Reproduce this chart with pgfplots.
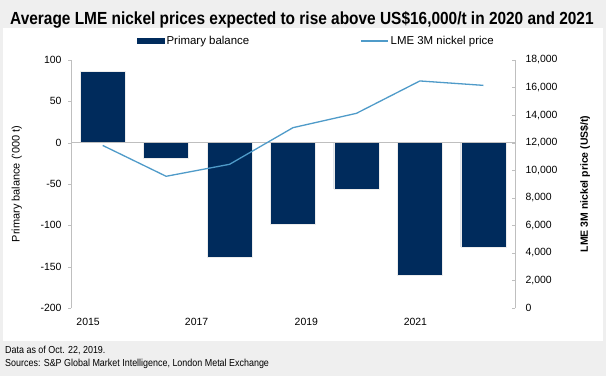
\documentclass[border=0pt]{standalone}
\usepackage{fontspec}
\setmainfont{Liberation Sans}
\newfontfamily\condensed{Liberation Sans}[FakeStretch=0.88]
\usepackage{pgfplots}
\pgfplotsset{compat=1.18}
\definecolor{barc}{HTML}{002B5C}
\definecolor{linec}{HTML}{4F9BC9}
\definecolor{bg}{HTML}{EFEFEF}
\definecolor{axc}{HTML}{BFBFBF}
\pgfplotsset{
  barlegend/.style={legend image code/.code={\fill[barc] (0bp,-2.5bp) rectangle (27bp,2.5bp);}},
  linelegend/.style={legend image code/.code={\draw[linec, line width=1.3bp] (0bp,0bp) -- (27bp,0bp);}},
}
\begin{document}
\begin{tikzpicture}[x=1bp,y=1bp]
\useasboundingbox (0,0) rectangle (606,-376);
\fill[bg] (0,0) rectangle (606,-376);
\fill[white] (3,-28) rectangle (603,-341);
\node[anchor=base west, inner sep=0, font=\condensed\bfseries\fontsize{17.6}{20}\selectfont] at (10,-24) {Average LME nickel prices expected to rise above US\$16,000/t in 2020 and 2021};
\node[anchor=base west, inner sep=0, font=\condensed\fontsize{10.2}{12}\selectfont] at (5,-353) {Data as of Oct. 22, 2019.};
\node[anchor=base west, inner sep=0, font=\condensed\fontsize{10.2}{12}\selectfont] at (5,-366) {Sources: S\&P Global Market Intelligence, London Metal Exchange};

\begin{axis}[
  at={(71bp,-308bp)}, anchor=south west,
  width=444bp, height=248bp, scale only axis,
  xmin=-0.5, xmax=6.5, ymin=-200, ymax=100,
  ytick={-200,-150,-100,-50,0,50,100},
  axis y line*=left, axis x line*=bottom,
  x axis line style={draw=none},
  y axis line style={axc},
  xtick={-0.23,1.48,3.21,4.93},
  xticklabels={2015,2017,2019,2021},
  xtick style={draw=none},
  ytick style={axc},
  tick align=outside, major tick length=3bp,
  tick label style={font=\fontsize{10.5}{12}\selectfont},
  /pgf/number format/assume math mode=true,
  xticklabel style={yshift=-4bp},
  yticklabel style={xshift=-3bp},
  ylabel={Primary balance ('000 t)},
  ylabel style={at={(axis description cs:-0.122,0.5)}, anchor=center, font=\fontsize{11}{13}\selectfont},
]
\addplot[ybar, bar width=0.71, fill=barc, draw=white!85!gray, line width=0.4bp]
  coordinates {(0,86) (1,-19) (2,-139) (3,-99) (4,-56) (5,-160) (6,-126)};
\draw[axc, line width=0.9bp] (axis cs:-0.5,0) -- (axis cs:6.5,0);
\end{axis}

\begin{axis}[
  at={(71bp,-308bp)}, anchor=south west,
  width=444bp, height=248bp, scale only axis,
  xmin=-0.5, xmax=6.5, ymin=0, ymax=18000,
  ytick={0,2000,...,18000},
  scaled y ticks=false,
  axis y line*=right, axis x line=none,
  y axis line style={axc},
  ytick style={axc},
  tick align=inside, major tick length=3bp,
  tick label style={font=\fontsize{10.5}{12}\selectfont},
  yticklabel style={xshift=7bp},
  /pgf/number format/assume math mode=true,
  /pgf/number format/1000 sep={,},
  ylabel={\bfseries LME 3M nickel price (US\$/t)},
  ylabel style={at={(axis description cs:1.158,0.5)}, anchor=center, font=\fontsize{10.5}{12}\selectfont},
  legend columns=2,
  legend style={at={(axis description cs:0.1486,1)}, anchor=west, yshift=19bp, draw=none, fill=none, inner sep=0pt,
    font=\fontsize{11.5}{13}\selectfont,
    /tikz/every even column/.append style={column sep=109bp}},
]
\addlegendimage{barlegend}
\addlegendentry{Primary balance}
\addplot[linec, line width=1.3bp, mark=none, linelegend]
  coordinates {(0,11800) (1,9560) (2,10430) (3,13090) (4,14130) (5,16480) (6,16160)};
\addlegendentry{LME 3M nickel price}
\end{axis}
\end{tikzpicture}
\end{document}
